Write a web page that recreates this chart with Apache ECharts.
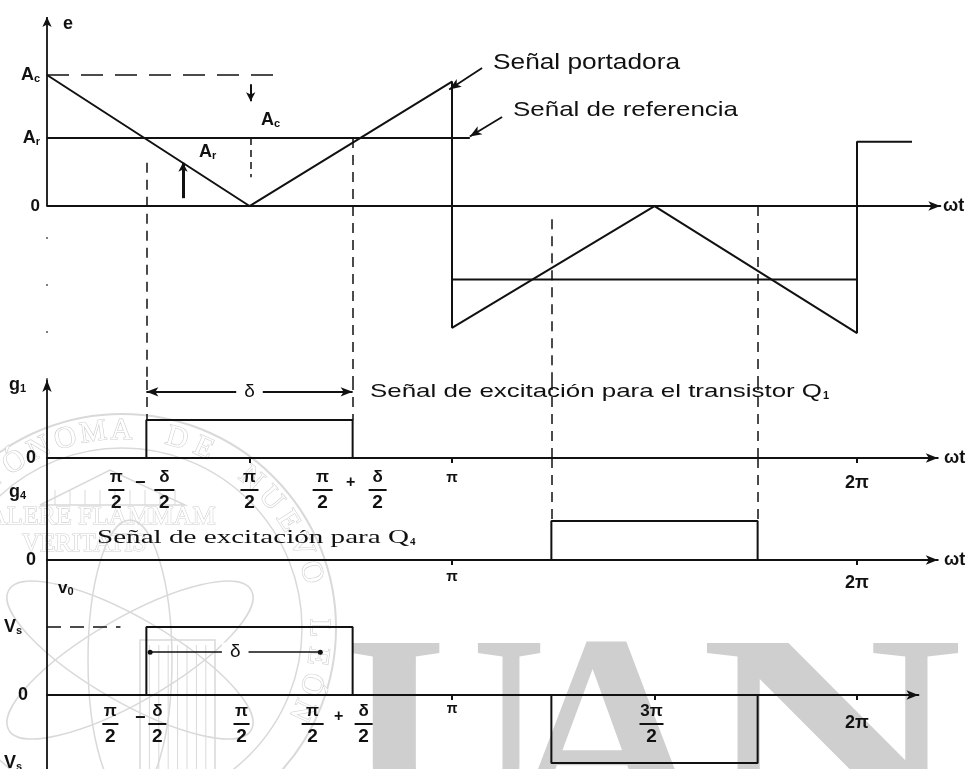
<!DOCTYPE html>
<html>
<head>
<meta charset="utf-8">
<script src="https://cdn.jsdelivr.net/npm/echarts@6/dist/echarts.min.js"></script>
<style>
  html, body { margin: 0; padding: 0; background: #fff; }
  #c { width: 975px; height: 769px; }
</style>
</head>
<body>
<div id="c"></div>
<script>
const PI = Math.PI;

// ---- waveform values (x in radians of ωt) ----
// triangular carrier, in units of A_c
const carrierX = [0, PI / 2, PI, PI, 3 * PI / 2, 2 * PI, 2 * PI, 6.71];
const carrierY = [1.0, 0, 0.95, -0.93, 0, -0.97, 0.49, 0.49];
// reference signal, positive and negative half cycle
const refPosX = [0, 3.28];
const refPosY = [0.52, 0.52];
const refNegX = [PI, 2 * PI];
const refNegY = [-0.56, -0.56];
// pulse width δ and switching instants
const delta = 1.6;
const edges = [PI / 2 - delta / 2, PI / 2 + delta / 2, 3 * PI / 2 - delta / 2, 3 * PI / 2 + delta / 2];
// gate signal g1 and g4 (normalised)
const g1X = [edges[0], edges[0], edges[1], edges[1]];
const g1Y = [0, 1, 1, 0];
const g4X = [edges[2], edges[2], edges[3], edges[3]];
const g4Y = [0, 1, 1, 0];
// output voltage v0 in units of Vs
const voPosX = [edges[0], edges[0], edges[1], edges[1]];
const voPosY = [0, 1, 1, 0];
const voNegX = [edges[2], edges[2], edges[3], edges[3]];
const voNegY = [0, -1, -1, 0];
// tick positions on the ωt axes
const ticksG1 = [PI / 2, PI, 2 * PI];
const ticksG4 = [PI, 2 * PI];
const ticksVo = [PI, 3 * PI / 2, 2 * PI];

// ---- annotation values ----
const acLevelX = [0, 1.83];
const acMarkX = 1.58;
const acArrowY = [0.93, 0.80];
const acGuideY = [0.52, 0.22];
const arMarkX = 1.055;
const arMarkY = [0.06, 0.33];
const carrierPointer = [[3.375, 1.053], [3.12, 0.89]];
const refPointer = [[3.53, 0.68], [3.28, 0.53]];
const guideTopY = [0.33, 0.52, -0.1, 0.0];
const g1DimY = 1.74;
const voDimX = [0.80, 2.12];
const voDimY = 0.63;
const vsLevelX = [0, 0.57];

// ---- layout ----
const K = 810 / (2 * PI);          // px per radian
const X0 = 47;
const panels = [
  { top: 17,  height: 363, xMax: 6.93, yMin: -1.328, yMax: 1.443 },
  { top: 380, height: 78,  xMax: 6.91, yMin: 0,      yMax: 2.05 },
  { top: 458, height: 102, xMax: 6.91, yMin: 0,      yMax: 2.615 },
  { top: 560, height: 209, xMax: 6.76, yMin: -1.088, yMax: 1.985 }
];
const tickSets = [null, ticksG1, ticksG4, ticksVo];

const INK = '#111';
const F = '"Liberation Sans", Arial, sans-serif';
const FS = '"Liberation Serif", "Times New Roman", serif';

const zip = (xs, ys) => xs.map((x, i) => [x, ys[i]]);

function seg(p1, p2, o = {}) {
  return [
    { coord: p1, symbol: o.s1 || 'none', symbolSize: o.size || [7, 10],
      lineStyle: Object.assign({ color: INK, width: 1.5, type: 'solid' }, o.style || {}) },
    { coord: p2, symbol: o.s2 || 'none', symbolSize: o.size || [7, 10] }
  ];
}
function marks(data) {
  return { silent: true, animation: false, symbol: ['none', 'none'], label: { show: false },
           emphasis: { disabled: true }, data };
}
const dashed = { type: [10, 7], width: 1.5 };

const chart = echarts.init(document.getElementById('c'));

const grid = panels.map(p => ({ left: X0, top: p.top, width: p.xMax * K, height: p.height }));
const xAxis = panels.map((p, i) => ({
  gridIndex: i, type: 'value', min: 0, max: p.xMax,
  axisLine: { show: true, onZero: true, symbol: ['none', 'arrow'], symbolSize: [7, 12],
              lineStyle: { color: INK, width: 1.8 } },
  axisTick: tickSets[i] ? { show: true, customValues: tickSets[i], length: 5,
              lineStyle: { color: INK, width: 2 } } : { show: false },
  axisLabel: { show: false }, splitLine: { show: false }
}));
const yAxis = panels.map((p, i) => ({
  gridIndex: i, type: 'value', min: p.yMin, max: p.yMax,
  axisLine: { show: i !== 0, onZero: false,
              symbol: i === 1 ? ['none', 'arrow'] : ['none', 'none'], symbolSize: [7, 12],
              lineStyle: { color: INK, width: 1.8 } },
  axisTick: { show: false }, axisLabel: { show: false }, splitLine: { show: false }
}));

const base = { type: 'line', symbol: 'none', silent: true, animation: false, clip: false,
               lineStyle: { color: INK, width: 2 } };

const series = [
  Object.assign({}, base, {
    name: 'portadora', xAxisIndex: 0, yAxisIndex: 0, data: zip(carrierX, carrierY),
    markLine: marks([
      // vertical axis of the upper panel
      seg([0, 0], [0, panels[0].yMax], { s2: 'arrow', style: { width: 1.8 } }),
      seg([0, panels[0].yMin], [0, 0], { style: { type: [2, 45], width: 1.5, color: '#555' } }),
      // A_c level, amplitude marks
      seg([acLevelX[0], 1], [acLevelX[1], 1], { style: { type: [22, 12] } }),
      seg([acMarkX, acArrowY[0]], [acMarkX, acArrowY[1]], { s2: 'arrow', size: [7, 9], style: { width: 2 } }),
      seg([acMarkX, acGuideY[0]], [acMarkX, acGuideY[1]], { style: { type: [7, 5] } }),
      seg([arMarkX, arMarkY[0]], [arMarkX, arMarkY[1]], { s2: 'arrow', size: [7, 9], style: { width: 3 } }),
      // pointers to the signals
      seg(carrierPointer[0], carrierPointer[1], { s2: 'arrow', size: [7, 12], style: { width: 1.8 } }),
      seg(refPointer[0], refPointer[1], { s2: 'arrow', size: [7, 12], style: { width: 1.8 } }),
      // switching-instant guides (upper panel part)
      seg([edges[0], guideTopY[0]], [edges[0], panels[0].yMin], { style: dashed }),
      seg([edges[1], guideTopY[1]], [edges[1], panels[0].yMin], { style: dashed }),
      seg([edges[2], guideTopY[2]], [edges[2], panels[0].yMin], { style: dashed }),
      seg([edges[3], guideTopY[3]], [edges[3], panels[0].yMin], { style: dashed })
    ])
  }),
  Object.assign({}, base, { name: 'referencia+', xAxisIndex: 0, yAxisIndex: 0, data: zip(refPosX, refPosY) }),
  Object.assign({}, base, { name: 'referencia-', xAxisIndex: 0, yAxisIndex: 0, data: zip(refNegX, refNegY) }),
  Object.assign({}, base, {
    name: 'g1', xAxisIndex: 1, yAxisIndex: 1, data: zip(g1X, g1Y),
    markLine: marks([
      seg([edges[0], panels[1].yMax], [edges[0], 1], { style: dashed }),
      seg([edges[1], panels[1].yMax], [edges[1], 1], { style: dashed }),
      seg([edges[2], panels[1].yMax], [edges[2], 0], { style: dashed }),
      seg([edges[3], panels[1].yMax], [edges[3], 0], { style: dashed }),
      seg([edges[0], g1DimY], [edges[1], g1DimY], { s1: 'arrow', s2: 'arrow', size: [7, 12], style: { width: 1.8 } })
    ])
  }),
  Object.assign({}, base, {
    name: 'g4', xAxisIndex: 2, yAxisIndex: 2, data: zip(g4X, g4Y),
    markLine: marks([
      seg([edges[2], panels[2].yMax], [edges[2], 1], { style: dashed }),
      seg([edges[3], panels[2].yMax], [edges[3], 1], { style: dashed })
    ])
  }),
  Object.assign({}, base, {
    name: 'v0+', xAxisIndex: 3, yAxisIndex: 3, data: zip(voPosX, voPosY),
    markLine: marks([
      seg([vsLevelX[0], 1], [vsLevelX[1], 1], { style: { type: [14, 9] } }),
      seg([voDimX[0], voDimY], [voDimX[1], voDimY], { s1: 'circle', s2: 'circle', size: 5, style: { width: 1.6 } })
    ])
  }),
  Object.assign({}, base, { name: 'v0-', xAxisIndex: 3, yAxisIndex: 3, data: zip(voNegX, voNegY) })
];

chart.setOption({ animation: false, grid, xAxis, yAxis, series });

// ---- text ----
const P = (g, x, y) => chart.convertToPixel({ gridIndex: g }, [x, y]);
const mctx = document.createElement('canvas').getContext('2d');

function txt(x, y, text, size, o = {}) {
  return {
    type: 'text', x, y, silent: true, scaleX: o.sx || 1, z: 10,
    style: {
      text, fill: INK, align: o.a || 'left', verticalAlign: 'middle',
      fontSize: size, fontFamily: o.f || F, fontWeight: o.w || 'normal',
      rich: o.rich, backgroundColor: o.bg, padding: o.pad
    }
  };
}
function fit(x, y, text, size, width, o = {}) {
  mctx.font = `${o.w || 'normal'} ${size}px ${o.f || F}`;
  const w = mctx.measureText(text).width;
  return txt(x, y, text, size, Object.assign({}, o, { sx: width / w }));
}
function sub(x, y, main, s, size, a = 'left') {
  return txt(x, y, `{m|${main}}{s|${s}}`, size, {
    a, rich: {
      m: { fontSize: size, fontFamily: F, fill: INK, fontWeight: 'bold' },
      s: { fontSize: Math.round(size * 0.62), fontFamily: F, fill: INK, fontWeight: 'bold', padding: [Math.round(size * 0.45), 0, 0, 0] }
    }
  });
}
function frac(cx, yNum, yBar, yDen, num, den, bw, size = 19) {
  return [
    txt(cx, yNum, num, size - 2, { a: 'center', w: 'bold' }),
    { type: 'line', silent: true, z: 10, shape: { x1: cx - bw / 2, y1: yBar, x2: cx + bw / 2, y2: yBar },
      style: { stroke: INK, lineWidth: 2 } },
    txt(cx, yDen, den, size, { a: 'center', w: 'bold' })
  ];
}

const G = [];

// ---- faint background seal and lettering ----
const WM = '#cfcfcf';
const WM2 = '#d9d9d9';
const sealC = [122, 628];
const sealText = 'UNIVERSIDAD AUTÓNOMA DE NUEVO LEÓN';
G.push({ type: 'circle', silent: true, z: -5, shape: { cx: sealC[0], cy: sealC[1], r: 214 },
         style: { fill: 'none', stroke: WM2, lineWidth: 2 } });
G.push({ type: 'circle', silent: true, z: -5, shape: { cx: sealC[0], cy: sealC[1], r: 180 },
         style: { fill: 'none', stroke: WM2, lineWidth: 1.5 } });
sealText.split('').forEach((ch, i) => {
  const a = (-156 + i * 8.2) * PI / 180;
  const r = 197;
  G.push({ type: 'text', silent: true, z: -5,
           x: sealC[0] + r * Math.sin(a), y: sealC[1] - r * Math.cos(a), rotation: -a,
           style: { text: ch, fontSize: 30, fontFamily: FS, fill: '#fff', stroke: WM, lineWidth: 1.2,
                    align: 'center', verticalAlign: 'middle' } });
});
G.push({ type: 'text', silent: true, z: -5, x: -12, y: 517,
         style: { text: 'ALERE FLAMMAM', fontSize: 26, fontFamily: FS, fill: '#fff', stroke: WM, lineWidth: 1.1, verticalAlign: 'middle' } });
G.push({ type: 'text', silent: true, z: -5, x: 22, y: 544,
         style: { text: 'VERITATIS', fontSize: 25, fontFamily: FS, fill: '#fff', stroke: WM, lineWidth: 1.1, verticalAlign: 'middle' } });
// roof and columns of the building
G.push({ type: 'polyline', silent: true, z: -5, shape: { points: [[40, 505], [110, 470], [185, 505], [40, 505]] },
         style: { fill: 'none', stroke: WM2, lineWidth: 1.5 } });
for (let k = 0; k < 9; k++) {
  G.push({ type: 'line', silent: true, z: -5, shape: { x1: 55 + k * 15, y1: 490, x2: 55 + k * 15, y2: 505 },
           style: { stroke: WM2, lineWidth: 1 } });
}
// orbits around the torch
[30, -30, 90].forEach(deg => {
  G.push({ type: 'ellipse', silent: true, z: -5, shape: { cx: 0, cy: 0, rx: 140, ry: 42 },
           x: 130, y: 660, rotation: deg * PI / 180,
           style: { fill: 'none', stroke: WM2, lineWidth: 1.5 } });
});
// torch shaft
G.push({ type: 'rect', silent: true, z: -5, shape: { x: 140, y: 640, width: 75, height: 140 },
         style: { fill: 'none', stroke: WM2, lineWidth: 1.5 } });
for (let k = 1; k < 8; k++) {
  G.push({ type: 'line', silent: true, z: -5, shape: { x1: 140 + k * 9.4, y1: 645, x2: 140 + k * 9.4, y2: 769 },
           style: { stroke: WM2, lineWidth: 1 } });
}
// large initials
const bigFont = 280;
[['U', 345, 1.0], ['A', 505, 1.0], ['N', 700, 1.3]].forEach(([ch, x, sx]) => {
  G.push({ type: 'text', silent: true, z: -4, x, y: 614, scaleX: sx,
           style: { text: ch, fontSize: bigFont, fontFamily: FS, fontWeight: 'bold', fill: WM,
                    verticalAlign: 'top' } });
});

// ---- upper panel labels ----
G.push(txt(68, 24, 'e', 18, { a: 'center', w: 'bold' }));
G.push(sub(40, P(0, 0, 1)[1], 'A', 'c', 18, 'right'));
G.push(sub(40, P(0, 0, refPosY[0])[1], 'A', 'r', 18, 'right'));
G.push(txt(40, P(0, 0, 0)[1], '0', 17, { a: 'right', w: 'bold' }));
G.push(sub(261, 120, 'A', 'c', 18));
G.push(sub(199, 152, 'A', 'r', 18));
G.push(fit(493, 63, 'Señal portadora', 22, 187));
G.push(fit(513, 110, 'Señal de referencia', 21, 225));
G.push(txt(943, P(0, 0, 0)[1], 'ωt', 18, { w: 'bold' }));

// ---- g1 panel ----
const y1 = P(1, 0, 0)[1];
G.push(sub(9, 385, 'g', '1', 18));
G.push(txt(36, y1, '0', 18, { a: 'right', w: 'bold' }));
G.push(fit(370, 392, 'Señal de excitación para el transistor Q', 19, 452));
G.push(txt(823, 396, '1', 11, { w: 'bold' }));
G.push(txt(P(1, (edges[0] + edges[1]) / 2, 0)[0], 392, 'δ', 19, { a: 'center', bg: '#fff', pad: [0, 8] }));
G.push(txt(944, y1, 'ωt', 18, { w: 'bold' }));
{
  const xa = P(1, edges[0], 0)[0], xb = P(1, edges[1], 0)[0], xh = P(1, PI / 2, 0)[0];
  G.push(...frac(xa - 30, 477, 490, 503, 'π', '2', 16));
  G.push(txt(xa - 6, 483, '−', 18, { a: 'center', w: 'bold' }));
  G.push(...frac(xa + 18, 477, 490, 503, 'δ', '2', 20));
  G.push(...frac(xh, 477, 490, 503, 'π', '2', 18));
  G.push(...frac(xb - 30, 477, 490, 503, 'π', '2', 20));
  G.push(txt(xb - 2, 483, '+', 16, { a: 'center', w: 'bold' }));
  G.push(...frac(xb + 25, 477, 490, 503, 'δ', '2', 18));
  G.push(txt(P(1, PI, 0)[0], 478, 'π', 15, { a: 'center', w: 'bold' }));
  G.push(txt(P(1, 2 * PI, 0)[0], 483, '2π', 18, { a: 'center', w: 'bold' }));
}

// ---- g4 panel ----
const y4 = P(2, 0, 0)[1];
G.push(sub(9, 492, 'g', '4', 18));
G.push(txt(36, y4, '0', 18, { a: 'right', w: 'bold' }));
G.push(fit(97, 538, 'Señal de excitación para Q', 19, 312, { f: FS }));
G.push(txt(410, 542, '4', 11, { f: FS, w: 'bold' }));
G.push(txt(P(2, PI, 0)[0], 577, 'π', 15, { a: 'center', w: 'bold' }));
G.push(txt(P(2, 2 * PI, 0)[0], 583, '2π', 18, { a: 'center', w: 'bold' }));
G.push(txt(944, y4, 'ωt', 18, { w: 'bold' }));

// ---- v0 panel ----
const y0 = P(3, 0, 0)[1];
G.push(sub(58, 588, 'v', '0', 17));
G.push(sub(4, P(3, 0, 1)[1], 'V', 's', 18));
G.push(sub(4, P(3, 0, -1)[1], 'V', 's', 18));
G.push(txt(28, y0, '0', 18, { a: 'right', w: 'bold' }));
G.push(txt(P(3, (voDimX[0] + voDimX[1]) / 2, 0)[0], P(3, 0, voDimY)[1], 'δ', 19, { a: 'center', bg: '#fff', pad: [0, 8] }));
{
  const xa = P(3, edges[0], 0)[0], xb = P(3, edges[1], 0)[0], xh = P(3, PI / 2, 0)[0];
  G.push(...frac(xa - 36, 711, 724, 737, 'π', '2', 16));
  G.push(txt(xa - 6, 718, '−', 18, { a: 'center', w: 'bold' }));
  G.push(...frac(xa + 11, 711, 724, 737, 'δ', '2', 18));
  G.push(...frac(xh - 8, 711, 724, 737, 'π', '2', 16));
  G.push(...frac(xb - 40, 711, 724, 737, 'π', '2', 22));
  G.push(txt(xb - 14, 717, '+', 16, { a: 'center', w: 'bold' }));
  G.push(...frac(xb + 11, 711, 724, 737, 'δ', '2', 18));
  G.push(txt(P(3, PI, 0)[0], 709, 'π', 14, { a: 'center', w: 'bold' }));
  G.push(...frac(P(3, 3 * PI / 2, 0)[0] - 3, 711, 724, 737, '3π', '2', 24));
  G.push(txt(P(3, 2 * PI, 0)[0], 723, '2π', 18, { a: 'center', w: 'bold' }));
}

chart.setOption({ graphic: { elements: G } });
</script>
</body>
</html>
